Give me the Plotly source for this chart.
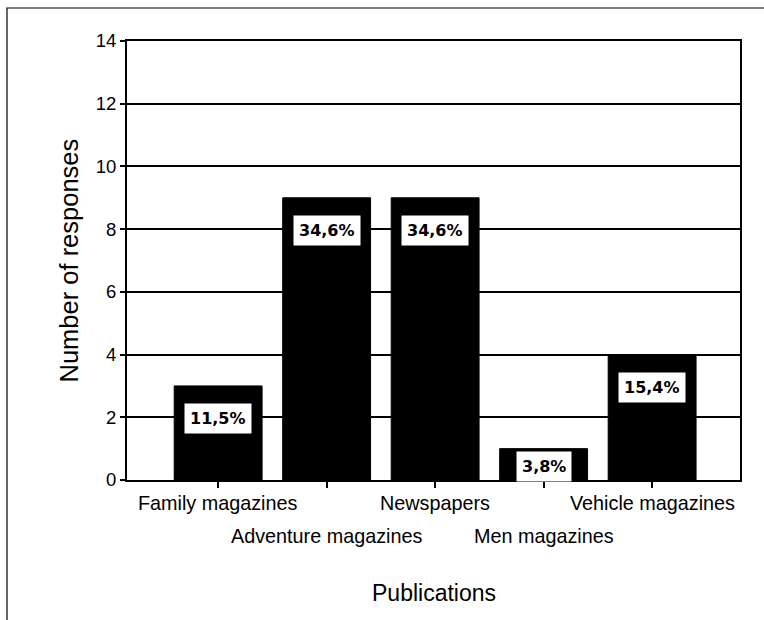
import plotly.graph_objects as go

# Survey results: which publications respondents read
categories = ["Family magazines", "Adventure magazines", "Newspapers",
              "Men magazines", "Vehicle magazines"]
responses = [3, 9, 9, 1, 4]
y_ticks = [0, 2, 4, 6, 8, 10, 12, 14]

total = sum(responses)
shares = [round(100 * v / total, 1) for v in responses]
share_text = [f"{s:.1f}%".replace(".", ",") for s in shares]

# plot-area geometry (pixels)
W, H = 764, 620
ML, MR, MT, MB = 127, 24, 41, 140
plot_w = W - ML - MR
plot_h = H - MT - MB
y_max = 14
px_per_unit = plot_h / y_max

FONT = "Liberation Sans, Arial, sans-serif"

fig = go.Figure(go.Bar(
    x=categories, y=responses,
    marker=dict(color="black", line=dict(color="black", width=1)),
    width=0.81, hoverinfo="x+y",
))

annotations = []
# percentage labels in white boxes near the top of each bar
box_h = 29
for cat, val, txt in zip(categories, responses, share_text):
    bar_px = val * px_per_unit
    shift = -min(17, max(0, bar_px - box_h))
    annotations.append(dict(
        x=cat, y=val, xref="x", yref="y", text=f"<b>{txt}</b>",
        showarrow=False, yanchor="top", yshift=shift,
        bgcolor="white", borderpad=5,
        font=dict(family="DejaVu Sans, sans-serif", size=16, color="black"),
    ))

# staggered category labels under the axis
row_y = [(MT + plot_h - 503) / plot_h, (MT + plot_h - 536) / plot_h]
for i, cat in enumerate(categories):
    annotations.append(dict(
        x=cat, y=row_y[i % 2], xref="x", yref="paper", text=cat,
        showarrow=False, yanchor="middle",
        font=dict(family=FONT, size=19.8, color="black"),
    ))

# axis titles
annotations.append(dict(
    x=0.5, y=(MT + plot_h - 593) / plot_h, xref="paper", yref="paper",
    text="Publications", showarrow=False, yanchor="middle",
    font=dict(family=FONT, size=23, color="black"),
))
annotations.append(dict(
    x=(68 - ML) / plot_w, y=0.5, xref="paper", yref="paper",
    text="Number of responses", showarrow=False, textangle=-90,
    xanchor="center", yanchor="middle",
    font=dict(family=FONT, size=25.5, color="black"),
))

# outer frame around the whole chart
fig.add_shape(type="rect", xref="paper", yref="paper",
              x0=(7 - ML) / plot_w, x1=(770 - ML) / plot_w,
              y0=(MT + plot_h - 630) / plot_h, y1=(MT + plot_h - 8) / plot_h,
              line=dict(color="black", width=1.2), fillcolor="rgba(0,0,0,0)",
              layer="below")

fig.update_layout(
    width=W, height=H,
    margin=dict(l=ML, r=MR, t=MT, b=MB, autoexpand=False),
    paper_bgcolor="white", plot_bgcolor="white",
    showlegend=False, bargap=0.2,
    annotations=annotations,
    font=dict(family=FONT, color="black"),
)
fig.update_xaxes(
    range=[-0.84, 4.81], showticklabels=False,
    ticks="outside", ticklen=6, tickcolor="black", tickwidth=2,
    showline=True, linecolor="black", linewidth=2, mirror=True,
    showgrid=False, zeroline=False, fixedrange=True,
)
fig.update_yaxes(
    range=[0, y_max], tickvals=y_ticks, ticktext=[str(t) for t in y_ticks],
    ticks="outside", ticklen=5, tickcolor="black", tickwidth=2,
    tickfont=dict(family=FONT, size=18.5, color="black"),
    showline=True, linecolor="black", linewidth=2, mirror=True,
    showgrid=True, gridcolor="black", gridwidth=1.5,
    zeroline=False, fixedrange=True,
)

fig.write_html("out.html")
